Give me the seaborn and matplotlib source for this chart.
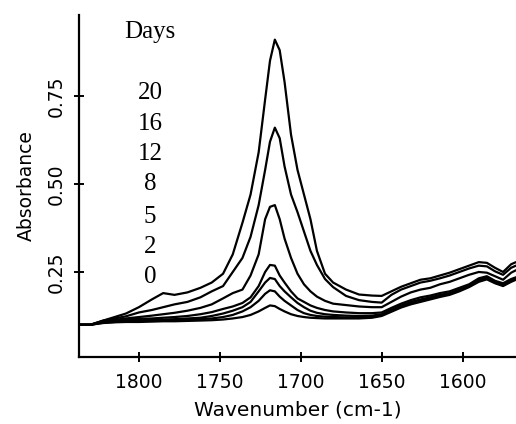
import numpy as np
import pandas as pd
import matplotlib
matplotlib.use("Agg")
import matplotlib.pyplot as plt
import seaborn as sns

wavenumber = [1837, 1830, 1822, 1815, 1808, 1800, 1792, 1785, 1778, 1770, 1762, 1755,
              1748, 1742, 1736, 1731, 1726, 1722, 1719, 1716, 1713, 1710, 1706, 1702,
              1698, 1694, 1690, 1685, 1680, 1672, 1664, 1656, 1650, 1644, 1638, 1632,
              1626, 1620, 1614, 1608, 1602, 1596, 1590, 1585, 1580, 1575, 1570, 1567]

day20 = [.100, .100, .112, .122, .132, .150, .172, .190, .185, .192, .205, .220,
         .245, .300, .390, .470, .590, .740, .850, .910, .880, .790, .640, .540,
         .470, .400, .310, .245, .220, .200, .186, .183, .182, .195, .208, .218,
         .228, .232, .240, .248, .258, .268, .278, .276, .262, .250, .272, .278]
day16 = [.100, .100, .112, .118, .124, .135, .142, .150, .158, .165, .178, .195,
         .210, .250, .290, .350, .440, .540, .620, .660, .630, .550, .470, .420,
         .365, .310, .270, .230, .207, .182, .170, .165, .163, .185, .200, .210,
         .220, .225, .232, .240, .250, .260, .268, .266, .252, .242, .262, .268]
day12 = [.100, .100, .110, .114, .118, .122, .126, .130, .134, .140, .148, .158,
         .175, .190, .200, .240, .300, .400, .435, .440, .400, .345, .290, .245,
         .215, .195, .180, .168, .160, .156, .152, .150, .150, .165, .180, .192,
         .200, .205, .215, .222, .232, .242, .250, .248, .238, .228, .248, .255]
day8 = [.100, .100, .108, .112, .115, .117, .118, .120, .122, .125, .130, .136,
        .145, .152, .162, .178, .210, .250, .270, .268, .240, .220, .195, .175,
        .165, .155, .148, .142, .138, .135, .133, .133, .135, .148, .160, .170,
        .178, .183, .190, .195, .205, .215, .232, .238, .225, .218, .230, .235]
day5 = [.100, .100, .108, .110, .112, .113, .114, .115, .116, .118, .120, .125,
        .132, .140, .150, .165, .195, .220, .233, .230, .210, .195, .178, .162,
        .150, .140, .134, .130, .128, .126, .125, .126, .130, .143, .155, .165,
        .172, .178, .185, .190, .200, .212, .228, .234, .222, .214, .226, .232]
day2 = [.100, .100, .106, .108, .110, .111, .112, .112, .113, .114, .116, .118,
        .122, .128, .138, .150, .168, .188, .198, .195, .180, .168, .155, .142,
        .133, .128, .125, .123, .122, .121, .121, .122, .127, .140, .152, .162,
        .169, .175, .182, .188, .198, .210, .226, .232, .220, .212, .224, .230]
day0 = [.100, .100, .105, .107, .108, .108, .109, .110, .110, .111, .112, .113,
        .115, .118, .122, .128, .138, .148, .155, .153, .145, .138, .130, .125,
        .122, .120, .119, .118, .118, .118, .118, .120, .125, .137, .149, .158,
        .165, .172, .179, .185, .195, .207, .222, .229, .218, .210, .222, .228]

days = [20, 16, 12, 8, 5, 2, 0]
series = [day20, day16, day12, day8, day5, day2, day0]
day_labels = ["20", "16", "12", "8", "5", "2", "0"]
xticks = [1800, 1750, 1700, 1650, 1600]
yticks = [0.25, 0.50, 0.75]
ytick_labels = ["0.25", "0.50", "0.75"]

rows = []
for d, vals in zip(days, series):
    for w, v in zip(wavenumber, vals):
        rows.append({"wavenumber": w, "absorbance": v, "day": d})
df = pd.DataFrame(rows)

sns.set_style("white")
fig = plt.figure(figsize=(5.16, 4.24), dpi=100)
ax = fig.add_axes([79 / 516, 67 / 424, 437 / 516, 342 / 424])

sns.lineplot(data=df, x="wavenumber", y="absorbance", units="day", estimator=None,
             color="black", linewidth=1.6, sort=False, ax=ax, legend=False)

ax.set_xlim(1837, 1567)
ax.set_ylim(0.0085, 0.98)
ax.set_xticks(xticks)
ax.set_xticklabels([str(t) for t in xticks], fontsize=13.5, family="DejaVu Sans",
                   color="black")
ax.set_yticks(yticks)
ax.set_yticklabels(ytick_labels, fontsize=13.5, rotation=90, va="center",
                   family="DejaVu Sans", color="black")
ax.tick_params(axis="both", which="major", direction="inout", length=7, width=1.4,
               color="black", bottom=True, left=True)
ax.tick_params(axis="x", pad=8)
ax.tick_params(axis="y", pad=6)
for s in ["top", "right"]:
    ax.spines[s].set_visible(False)
for s in ["left", "bottom"]:
    ax.spines[s].set_color("black")
    ax.spines[s].set_linewidth(1.6)

ax.set_xlabel("Wavenumber (cm-1)", fontsize=14.5, family="DejaVu Sans", labelpad=6,
              color="black")
ax.set_ylabel("Absorbance", fontsize=13.5, family="DejaVu Sans", labelpad=8,
              color="black")

fig.text(150 / 516, 1 - 32 / 424, "Days", ha="center", va="center",
         family="Liberation Serif", fontsize=18, color="black")
label_y = [93, 124, 154, 184, 217, 247, 277]
for lab, yp in zip(day_labels, label_y):
    fig.text(150 / 516, 1 - yp / 424, lab, ha="center", va="center",
             family="Liberation Serif", fontsize=18, color="black")

fig.savefig("out.png", dpi=100)
